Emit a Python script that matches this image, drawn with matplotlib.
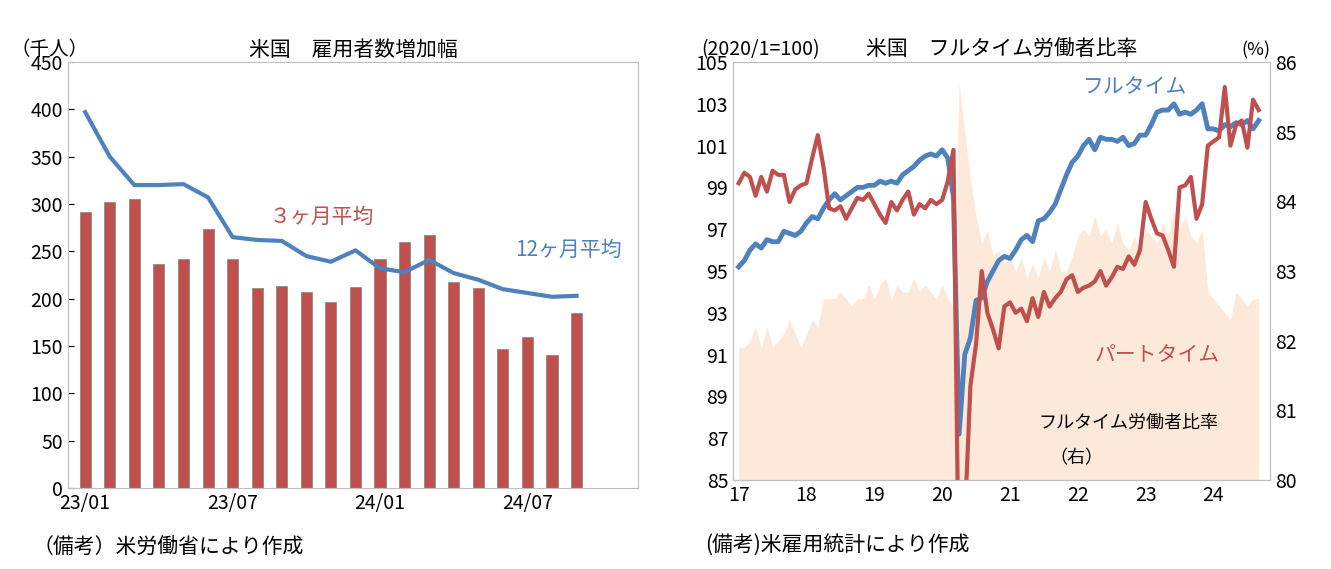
import matplotlib.pyplot as plt
import numpy as np

plt.rcParams['font.family'] = ['Noto Sans CJK JP', 'DejaVu Sans']

BLUE = '#4F81BD'
RED = '#C0504D'
AREA = '#FDE9D9'

# left panel: monthly 23/01 - 24/09
months = ['23/01', '', '', '', '', '', '23/07', '', '', '', '', '',
          '24/01', '', '', '', '', '', '24/07', '', '']
avg3 = [292, 302, 305, 237, 242, 274, 242, 211, 213, 207, 197, 212,
        242, 260, 267, 218, 211, 147, 159, 140, 185]
avg12 = [397, 350, 320, 320, 321, 307, 265, 262, 261, 245, 239, 251,
         232, 228, 241, 227, 220, 210, 206, 202, 203]

# right panel: monthly 2017/01 - 2024/09
fulltime = [95.2, 95.5, 96.0, 96.3, 96.1, 96.5, 96.4, 96.4, 96.9, 96.8, 96.7, 96.9,
            97.3, 97.6, 97.5, 98.0, 98.4, 98.7, 98.4, 98.6, 98.8, 99.0, 99.0, 99.1,
            99.1, 99.3, 99.2, 99.3, 99.2, 99.6, 99.8, 100.0, 100.3, 100.5, 100.6, 100.5,
            100.8, 100.4, 98.5, 87.2, 91.0, 91.8, 93.6, 93.7, 94.5, 95.0, 95.5, 95.7,
            95.6, 96.0, 96.5, 96.7, 96.4, 97.4, 97.5, 97.8, 98.2, 98.9, 99.6, 100.2,
            100.5, 101.0, 101.3, 100.8, 101.4, 101.3, 101.3, 101.2, 101.4, 101.0, 101.1, 101.5,
            101.5, 102.0, 102.6, 102.7, 102.7, 103.0, 102.5, 102.6, 102.5, 102.7, 103.0, 101.8,
            101.8, 101.7, 102.0, 101.9, 102.1, 102.0, 102.2, 101.8, 102.2]
parttime = [99.2, 99.7, 99.5, 98.6, 99.5, 98.8, 99.8, 99.6, 99.6, 98.3, 98.9, 99.1,
            99.2, 100.4, 101.5, 100.0, 98.0, 97.9, 98.1, 97.5, 98.0, 98.5, 98.4, 98.7,
            98.2, 97.7, 97.3, 98.3, 97.9, 98.4, 98.8, 97.7, 98.2, 98.0, 98.4, 98.2,
            98.4, 99.3, 100.8, 79.0, 83.0, 89.5, 91.5, 95.0, 93.0, 92.2, 91.3, 93.3,
            93.5, 93.0, 93.2, 92.6, 93.7, 92.8, 94.0, 93.3, 93.7, 94.0, 94.6, 94.8,
            94.0, 94.2, 94.3, 94.5, 95.0, 94.3, 94.7, 95.2, 95.1, 95.7, 95.3, 96.0,
            98.3, 97.5, 96.8, 96.7, 96.0, 95.2, 99.0, 99.1, 99.5, 97.5, 98.2, 101.0,
            101.2, 101.4, 103.8, 101.0, 102.0, 102.2, 100.9, 103.2, 102.7]
ratio = [81.9, 81.9, 82.0, 82.2, 81.9, 82.2, 81.9, 82.0, 82.1, 82.3, 82.1, 81.9,
         82.1, 82.3, 82.2, 82.6, 82.6, 82.6, 82.7, 82.6, 82.5, 82.6, 82.6, 82.8,
         82.6, 82.8, 82.9, 82.6, 82.8, 82.7, 82.7, 82.9, 82.7, 82.8, 82.7, 82.6,
         82.8, 82.6, 82.5, 85.7, 85.0, 84.3, 83.8, 83.4, 83.6, 83.2, 83.3, 83.1,
         83.2, 83.0, 83.2, 82.9, 83.1, 82.9, 83.2, 83.0, 83.3, 83.0, 83.0, 83.2,
         83.5, 83.6, 83.5, 83.8, 83.5, 83.6, 83.4, 83.7, 83.4, 83.3, 83.5, 83.3,
         83.6, 83.5, 83.4, 83.7, 83.5, 83.9, 83.6, 83.8, 83.5, 83.4, 83.6, 82.7,
         82.6, 82.5, 82.4, 82.3, 82.7, 82.6, 82.5, 82.6, 82.6]
year_labels = ['17', '18', '19', '20', '21', '22', '23', '24']

fig = plt.figure(figsize=(13.31, 5.69), dpi=100)

# ---- left chart
ax = fig.add_axes([68 / 1331, 1 - 488 / 569, 570 / 1331, 426 / 569])
x = np.arange(len(avg3))
ax.bar(x, avg3, width=0.45, color=RED, edgecolor='#8c8c8c', linewidth=0.6)
ax.plot(x, avg12, color=BLUE, lw=3)
ax.set_xlim(-0.7, 22.5)
ax.set_ylim(0, 450)
ax.set_yticks(range(0, 451, 50))
ax.set_xticks(x)
ax.set_xticklabels(months)
ax.tick_params(labelsize=14, length=0)
ax.tick_params(axis='y', length=4, direction='in')
for s in ax.spines.values():
    s.set_color('#bfbfbf')
ax.set_title('米国　雇用者数増加幅', fontsize=15, pad=4)
ax.text(-0.1, 1.005, '（千人）', transform=ax.transAxes, fontsize=14, va='bottom')
ax.text(7.5, 280, '３ヶ月平均', color=RED, fontsize=15)
ax.text(17.5, 245, '12ヶ月平均', color=BLUE, fontsize=15)
fig.text(33 / 1331, 1 - 548 / 569, '（備考）米労働省により作成', fontsize=15, va='center')

# ---- right chart
ax2 = fig.add_axes([733 / 1331, 1 - 480 / 569, 537 / 1331, 418 / 569])
ax3 = ax2.twinx()
t = np.arange(len(fulltime))
ax3.fill_between(t, 80, ratio, color=AREA, lw=0)
ax3.set_ylim(80, 86)
ax2.set_zorder(ax3.get_zorder() + 1)
ax2.patch.set_visible(False)
ax2.plot(t, fulltime, color=BLUE, lw=3.5)
ax2.plot(t, parttime, color=RED, lw=3)
ax2.set_ylim(85, 105)
ax2.set_yticks(range(85, 106, 2))
ax2.set_xlim(-1, len(t) + 1)
ax2.set_xticks(np.arange(0, 96, 12))
ax2.set_xticklabels(year_labels)
ax2.tick_params(labelsize=14, length=0)
ax3.tick_params(labelsize=14, length=0)
for a in (ax2, ax3):
    for s in a.spines.values():
        s.set_color('#bfbfbf')
ax2.set_title('米国　フルタイム労働者比率', fontsize=15, pad=4)
ax2.text(-0.06, 1.005, '(2020/1=100)', transform=ax2.transAxes, fontsize=14, va='bottom')
ax3.text(1.0, 1.005, '(%)', transform=ax3.transAxes, fontsize=13, va='bottom', ha='right')
ax2.text(61, 103.5, 'フルタイム', color=BLUE, fontsize=15)
ax2.text(63, 90.7, 'パートタイム', color=RED, fontsize=15)
ax2.text(53, 87.5, 'フルタイム労働者比率', fontsize=13)
ax2.text(55, 85.8, '（右）', fontsize=13)
fig.text(705 / 1331, 1 - 545 / 569, '(備考)米雇用統計により作成', fontsize=15, va='center')

fig.savefig('out.png', dpi=100)
